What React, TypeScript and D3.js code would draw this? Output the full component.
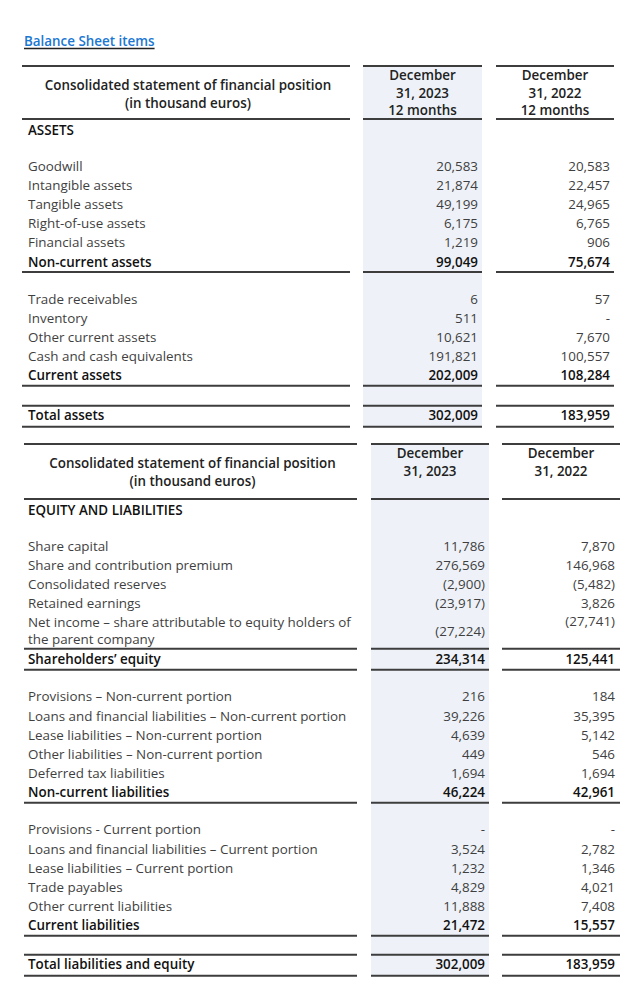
import React, { useEffect, useRef } from 'react';
import * as d3 from 'd3';

// ---- data ----
const title = 'Balance Sheet items';
const headerTitle = ['Consolidated statement of financial position', '(in thousand euros)'];
const assetsColHeaders = [['December', '31, 2023', '12 months'], ['December', '31, 2022', '12 months']];
const liabColHeaders = [['December', '31, 2023'], ['December', '31, 2022']];

const nonCurrentAssetLabels = ['Goodwill', 'Intangible assets', 'Tangible assets', 'Right-of-use assets', 'Financial assets'];
const nonCurrentAssets2023 = [20583, 21874, 49199, 6175, 1219];
const nonCurrentAssets2022 = [20583, 22457, 24965, 6765, 906];
const nonCurrentAssetsTotal = [99049, 75674];

const currentAssetLabels = ['Trade receivables', 'Inventory', 'Other current assets', 'Cash and cash equivalents'];
const currentAssets2023 = [6, 511, 10621, 191821];
const currentAssets2022 = [57, null, 7670, 100557];
const currentAssetsTotal = [202009, 108284];
const totalAssets = [302009, 183959];

const equityLabels = ['Share capital', 'Share and contribution premium', 'Consolidated reserves', 'Retained earnings', 'Net income – share attributable to equity holders of\nthe parent company'];
const equity2023 = [11786, 276569, -2900, -23917, -27224];
const equity2022 = [7870, 146968, -5482, 3826, -27741];
const equityTotal = [234314, 125441];

const nonCurrentLiabLabels = ['Provisions – Non-current portion', 'Loans and financial liabilities – Non-current portion', 'Lease liabilities – Non-current portion', 'Other liabilities – Non-current portion', 'Deferred tax liabilities'];
const nonCurrentLiab2023 = [216, 39226, 4639, 449, 1694];
const nonCurrentLiab2022 = [184, 35395, 5142, 546, 1694];
const nonCurrentLiabTotal = [46224, 42961];

const currentLiabLabels = ['Provisions - Current portion', 'Loans and financial liabilities – Current portion', 'Lease liabilities – Current portion', 'Trade payables', 'Other current liabilities'];
const currentLiab2023 = [null, 3524, 1232, 4829, 11888];
const currentLiab2022 = [null, 2782, 1346, 4021, 7408];
const currentLiabTotal = [21472, 15557];
const totalLiabEquity = [302009, 183959];

const FONT = '"Open Sans", Lato, sans-serif';
const ROW = 19.2;
const BOLD = 600;
const fmt = d3.format(',');
const fmtValue = (v) => (v === null ? '-' : v < 0 ? `(${fmt(-v)})` : fmt(v));

const drawTable = (svg, t) => {
	const g = svg.append('g');
	const colKeys = ['left', 'c1', 'c2'];
	const spans = d3.scaleOrdinal().domain(colKeys).range(t.spans);
	const numX = d3.scaleOrdinal().domain(['c1', 'c2']).range(t.numX);

	const rowsG = g.append('g');
	const linesY = [t.top, t.headerBottom];

	// header
	headerTitle.forEach((s, i) => {
		g.append('text')
			.attr('x', (spans('left')[0] + spans('left')[1]) / 2 + 2)
			.attr('y', t.top + 19 + i * 18)
			.attr('dy', '0.35em')
			.attr('text-anchor', 'middle')
			.style('font-weight', BOLD)
			.style('fill', '#222')
			.text(s);
	});
	t.colHeaders.forEach((lines, c) => {
		const span = spans(colKeys[c + 1]);
		lines.forEach((s, i) => {
			g.append('text')
				.attr('x', (span[0] + span[1]) / 2)
				.attr('y', t.top + 9.5 + i * 17.5)
				.attr('dy', '0.35em')
				.attr('text-anchor', 'middle')
				.style('font-weight', BOLD)
				.style('fill', '#222')
				.text(s);
		});
	});

	let y = t.headerBottom + 11;
	rowsG.append('text').attr('x', 28).attr('y', y).attr('dy', '0.35em')
		.style('font-weight', BOLD).style('fill', '#111').text(t.section);

	const row = (label, vals, bold, yy) => {
		const parts = label.split('\n');
		parts.forEach((p, i) => {
			rowsG.append('text').attr('x', 28).attr('y', yy + i * 17).attr('dy', '0.35em')
				.style('font-weight', bold ? BOLD : 400)
				.style('fill', bold ? '#111' : '#3f3f3f')
				.text(p);
		});
		vals.forEach((v, c) => {
			const multi = parts.length > 1;
			const vy = multi ? (c === 0 ? yy + 8.5 : yy - 1.5) : yy;
			rowsG.append('text').attr('x', numX(colKeys[c + 1])).attr('y', vy).attr('dy', '0.35em')
				.attr('text-anchor', 'end')
				.style('font-weight', bold ? BOLD : 400)
				.style('fill', bold ? '#111' : '#3f3f3f')
				.text(fmtValue(v));
		});
		return (parts.length - 1) * 17;
	};

	t.groups.forEach((grp, gi) => {
		y += gi === 0 ? 36 : 37;
		let extra = 0;
		grp.labels.forEach((lab, i) => {
			if (i > 0) y += ROW;
			extra = row(lab, [grp.a[i], grp.b[i]], false, y);
			y += extra;
		});
		y += extra > 0 ? 20 : ROW;
		if (extra > 0) linesY.push(y - 11);
		row(grp.totalLabel, grp.total, true, y);
		linesY.push(y + 10);
	});
	y += t.grandGap;
	linesY.push(y - 10);
	row(t.grandLabel, t.grand, true, y);
	linesY.push(y + 11);

	// shaded column behind the 2023 figures
	const c1 = spans('c1');
	g.insert('rect', ':first-child')
		.attr('x', c1[0]).attr('y', t.top)
		.attr('width', c1[1] - c1[0]).attr('height', y + 11 - t.top)
		.style('fill', '#eef2f8');

	linesY.forEach((ly) => {
		colKeys.forEach((k) => {
			const s = spans(k);
			g.append('line')
				.attr('x1', s[0]).attr('x2', s[1])
				.attr('y1', ly).attr('y2', ly)
				.style('stroke', '#3d3d3d')
				.style('stroke-width', 2);
		});
	});
};

const drawChart = (element) => {
	d3.select(element).select('svg').remove();
	const svg = d3.select(element).append('svg')
		.attr('width', 640).attr('height', 988)
		.style('display', 'block')
		.style('font-family', FONT)
		.style('font-size', '13.4px')
		.style('background', '#fff');

	const titleText = svg.append('text')
		.attr('x', 24).attr('y', 41).attr('dy', '0.35em')
		.style('font-weight', BOLD)
		.style('fill', '#1a77d2')
		.text(title);
	const w = titleText.node().getComputedTextLength();
	svg.append('line').attr('x1', 24).attr('x2', 24 + w).attr('y1', 48.5).attr('y2', 48.5)
		.style('stroke', '#222').style('stroke-width', 1.5);

	drawTable(svg, {
		top: 66,
		headerBottom: 119,
		spans: [[22, 350], [363, 482], [496, 614]],
		numX: [478, 610],
		colHeaders: assetsColHeaders,
		section: 'ASSETS',
		groups: [
			{ labels: nonCurrentAssetLabels, a: nonCurrentAssets2023, b: nonCurrentAssets2022, totalLabel: 'Non-current assets', total: nonCurrentAssetsTotal },
			{ labels: currentAssetLabels, a: currentAssets2023, b: currentAssets2022, totalLabel: 'Current assets', total: currentAssetsTotal },
		],
		grandGap: 40,
		grandLabel: 'Total assets',
		grand: totalAssets,
	});

	drawTable(svg, {
		top: 444,
		headerBottom: 499,
		spans: [[24, 357], [371, 489], [502, 620]],
		numX: [485, 615],
		colHeaders: liabColHeaders,
		section: 'EQUITY AND LIABILITIES',
		groups: [
			{ labels: equityLabels, a: equity2023, b: equity2022, totalLabel: 'Shareholders’ equity', total: equityTotal },
			{ labels: nonCurrentLiabLabels, a: nonCurrentLiab2023, b: nonCurrentLiab2022, totalLabel: 'Non-current liabilities', total: nonCurrentLiabTotal },
			{ labels: currentLiabLabels, a: currentLiab2023, b: currentLiab2022, totalLabel: 'Current liabilities', total: currentLiabTotal },
		],
		grandGap: 39,
		grandLabel: 'Total liabilities and equity',
		grand: totalLiabEquity,
	});
};

export default function App() {
	const ref = useRef(null);
	useEffect(() => {
		document.body.style.margin = '0';
		if (ref.current) drawChart(ref.current);
	}, []);
	return <div ref={ref} />;
}
